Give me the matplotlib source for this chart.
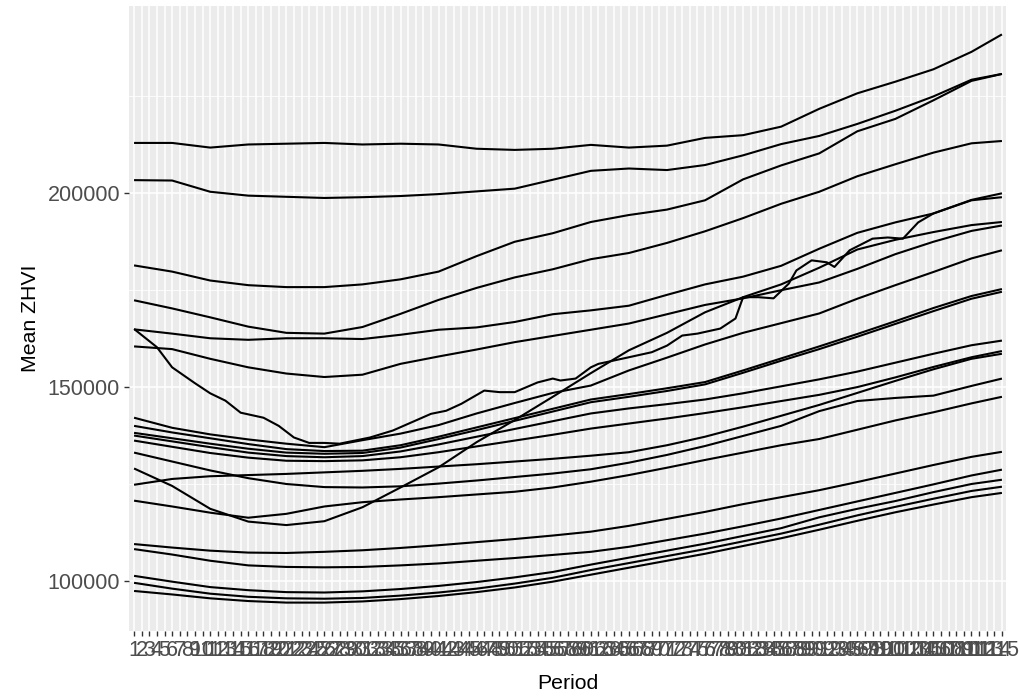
import matplotlib
matplotlib.use("Agg")
import matplotlib.pyplot as plt
from matplotlib.ticker import FixedLocator

# ---- data (values in thousands of dollars) ----
periods = list(range(1, 116))
grid = [1, 6, 11, 16, 21, 26, 31, 36, 41, 46, 51, 56, 61, 66, 71, 76, 81, 86, 91, 96, 101, 106, 111, 115]

s_a = [213, 213, 211.8, 212.6, 212.8, 213, 212.6, 212.8, 212.6, 211.5, 211.2, 211.5, 212.5, 211.8, 212.3, 214.3, 215, 217.2, 221.8, 225.8, 228.8, 232, 236.5, 241]
s_b = [203.4, 203.3, 200.4, 199.4, 199.1, 198.8, 199, 199.3, 199.8, 200.5, 201.2, 203.5, 205.8, 206.4, 206, 207.3, 209.8, 212.7, 214.8, 217.9, 221.3, 225, 229.3, 230.8]
s_c = [181.4, 179.8, 177.5, 176.3, 175.8, 175.8, 176.5, 177.8, 179.8, 183.8, 187.5, 189.7, 192.6, 194.4, 195.8, 198.2, 203.6, 207.2, 210.3, 216, 219.2, 224, 229, 230.8]
s_d = [172.4, 170.3, 168, 165.6, 164, 163.8, 165.5, 168.9, 172.5, 175.6, 178.3, 180.4, 183, 184.6, 187.2, 190.2, 193.6, 197.3, 200.4, 204.4, 207.5, 210.5, 212.9, 213.5]
s_e = [164.9, 163.8, 162.6, 162.2, 162.6, 162.6, 162.4, 163.5, 164.8, 165.4, 166.8, 168.8, 169.8, 171, 173.8, 176.5, 178.5, 181.3, 185.7, 189.8, 192.5, 194.8, 198.3, 200]
s_g = [160.5, 159.8, 157.3, 155.1, 153.5, 152.6, 153.2, 156, 157.9, 159.7, 161.6, 163.2, 164.8, 166.4, 168.8, 171.2, 172.9, 175, 177, 180.5, 184.3, 187.5, 190.3, 191.7]
s_h = [142.1, 139.5, 137.8, 136.5, 135.4, 134.5, 136.3, 138, 140.2, 143.2, 145.9, 148.5, 150.4, 154.3, 157.6, 161, 164, 166.5, 169, 172.8, 176.3, 179.7, 183.2, 185.3]
s_t1 = [140, 138.3, 136.8, 135.3, 134, 133.5, 133.6, 135, 137.2, 139.6, 142, 144.4, 146.8, 148.2, 149.7, 151.3, 154.3, 157.4, 160.5, 163.7, 167, 170.4, 173.5, 175.3]
s_t2 = [138.2, 136.8, 135.4, 134.1, 133.1, 132.8, 133, 134.4, 136.6, 138.9, 141.3, 143.7, 146.1, 147.5, 149, 150.7, 153.7, 156.8, 159.8, 163, 166.3, 169.6, 172.8, 174.6]
s_i = [137.5, 136, 134.5, 133.1, 132.2, 131.9, 132.2, 133.4, 135.2, 137.2, 139.2, 141.2, 143.2, 144.5, 145.6, 146.8, 148.4, 150.2, 152, 154, 156.3, 158.6, 160.8, 162]
s_j = [136.2, 134.6, 133, 131.8, 131, 130.9, 131.1, 131.9, 133.2, 134.7, 136.2, 137.7, 139.3, 140.6, 141.9, 143.3, 144.8, 146.4, 148, 150, 152.5, 155.2, 157.7, 159.3]
s_k = [124.8, 126.3, 127, 127.3, 127.6, 128, 128.4, 128.9, 129.5, 130.1, 130.8, 131.5, 132.3, 133.2, 135, 137.2, 139.8, 142.6, 145.4, 148.5, 151.6, 154.6, 157.3, 158.6]
s_l = [133.1, 130.8, 128.5, 126.5, 125, 124.2, 124.1, 124.4, 125.1, 125.9, 126.8, 127.7, 128.8, 130.5, 132.5, 134.8, 137.4, 140, 143.8, 146.4, 147.2, 147.8, 150.3, 152.2]
s_m = [120.7, 119.2, 117.6, 116.3, 117.3, 119.2, 120.3, 121, 121.6, 122.3, 123, 124.1, 125.6, 127.3, 129.2, 131.2, 133.1, 135, 136.6, 139, 141.4, 143.5, 145.8, 147.5]
s_u = [129, 124.5, 118.6, 115.3, 114.4, 115.4, 119, 124.1, 129.3, 135.8, 141.5, 147.5, 153.6, 159.5, 164, 169.3, 173.2, 176.5, 180.8, 185.5, 188, 190, 191.8, 192.6]
s_n = [109.5, 108.6, 107.8, 107.3, 107.2, 107.5, 107.9, 108.5, 109.2, 110, 110.8, 111.7, 112.7, 114.2, 116, 117.8, 119.8, 121.6, 123.4, 125.5, 127.7, 129.9, 132, 133.3]
s_o = [108.2, 106.8, 105.2, 104, 103.6, 103.5, 103.6, 104, 104.5, 105.2, 105.9, 106.7, 107.5, 108.8, 110.5, 112.2, 114.1, 116.1, 118.3, 120.5, 122.7, 124.9, 127.2, 128.7]
s_p = [101.3, 99.8, 98.4, 97.6, 97.1, 97, 97.3, 97.9, 98.7, 99.7, 100.9, 102.3, 104.2, 106, 107.8, 109.6, 111.6, 113.6, 116.4, 118.6, 120.6, 122.9, 125, 126.1]
s_q = [99.5, 98, 96.7, 95.9, 95.5, 95.4, 95.6, 96.2, 97, 98, 99.3, 100.8, 102.8, 104.6, 106.4, 108.2, 110.2, 112.2, 114.5, 116.9, 119.1, 121.2, 123.2, 124.3]
s_r = [97.4, 96.5, 95.5, 94.8, 94.4, 94.4, 94.7, 95.3, 96.1, 97.1, 98.3, 99.8, 101.6, 103.4, 105.2, 107, 109, 111, 113.2, 115.5, 117.7, 119.7, 121.6, 122.7]

f_periods = [1, 4, 6, 9, 11, 13, 15, 18, 20, 22, 24, 26, 28, 32, 35, 40, 42, 44, 47, 49,
             51, 54, 56, 57, 59, 61, 62, 66, 69, 71, 73, 75, 78, 80, 81, 83, 85, 87, 88, 90,
             92, 93, 95, 98, 100, 102, 104, 106, 111, 115]
f_values = [165, 160.3, 155.1, 151, 148.4, 146.5, 143.4, 142.1, 140, 137,
            135.6, 135.6, 135.4, 137, 138.8, 143.1, 143.9, 145.7, 149.1, 148.7,
            148.7, 151.2, 152.2, 151.7, 152.2, 155.1, 156, 157.7, 159, 160.7,
            163.3, 163.8, 165.1, 167.7, 173.2, 173.2, 172.9, 176.7, 180.1, 182.7,
            182.2, 181, 185.3, 188.3, 188.6, 188.3, 192.5, 194.8, 198.2, 199]

series = [(grid, s) for s in [s_a, s_b, s_c, s_d, s_e, s_g, s_h, s_t1, s_t2, s_i, s_j,
                              s_k, s_l, s_m, s_u, s_n, s_o, s_p, s_q, s_r]]
series.append((f_periods, f_values))

y_major = [100000, 150000, 200000]
y_minor = [125000, 175000, 225000]

# ---- figure ----
plt.rcParams['font.family'] = ['Liberation Sans', 'DejaVu Sans']
fig = plt.figure(figsize=(10.2, 7.0), dpi=100)
ax = fig.add_axes([129.5 / 1020, (700 - 631) / 700, 877 / 1020, (631 - 6) / 700])
ax.set_facecolor('#EBEBEB')
for sp in ax.spines.values():
    sp.set_visible(False)

for xs, vs in series:
    ax.plot(xs, [v * 1000 for v in vs], color='black', lw=1.5,
            solid_joinstyle='round', solid_capstyle='butt', zorder=3)

all_vals = [v * 1000 for _, vs in series for v in vs]
lo, hi = min(all_vals), max(all_vals)
pad = 0.05 * (hi - lo)
ax.set_ylim(lo - pad, hi + pad)
ax.set_xlim(0.4, 115.6)

ax.set_xticks(periods)
ax.set_xticklabels([str(p) for p in periods])
ax.set_yticks(y_major)
ax.set_yticklabels([str(v) for v in y_major])
ax.yaxis.set_minor_locator(FixedLocator(y_minor))

ax.set_axisbelow(True)
ax.grid(which='major', color='white', lw=1.1, zorder=0)
ax.grid(which='minor', axis='y', color='white', lw=0.55, zorder=0)

ax.tick_params(axis='both', which='major', length=3.6, width=1.0, color='#333333',
               labelcolor='#4D4D4D', labelsize=15.5, pad=3.2)
ax.tick_params(axis='both', which='minor', length=0)

ax.set_xlabel('Period', fontsize=15.3, color='black', labelpad=9)
ax.set_ylabel('Mean ZHVI', fontsize=15.3, color='black', labelpad=5)

fig.savefig('out.png', dpi=100)
